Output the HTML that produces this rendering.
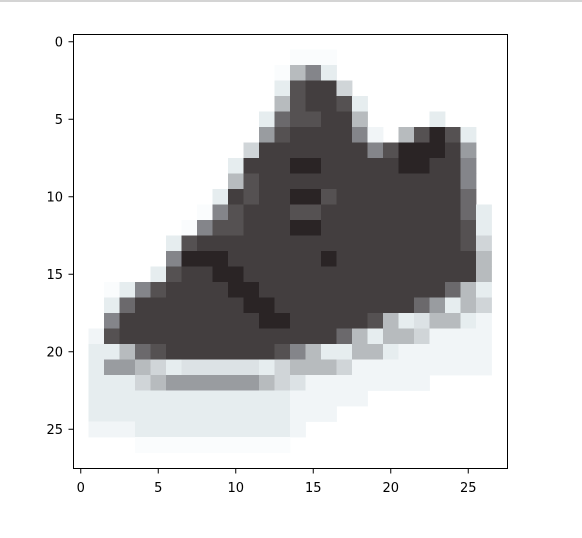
<!DOCTYPE html>
<html><head><meta charset="utf-8">
<style>
html,body{margin:0;padding:0;background:#fff;}
svg{display:block;font-family:"DejaVu Sans","Liberation Sans",sans-serif;}
</style></head>
<body>
<svg id="chart" width="582" height="538" viewBox="0 0 582 538">
<rect x="0" y="0" width="582" height="2" fill="#d4d4d4"/>
<g id="cells"></g>
<rect x="73.5" y="34.5" width="434" height="434" fill="none" stroke="#000" stroke-width="1"/>
<g id="xaxis"></g>
<g id="yaxis"></g>
</svg>
<script>
const rows = [
"....... ....... ....... .......",
"....... ....... aaa.... .......",
"....... ......a 351.... .......",
"....... ......1 7882... .......",
"....... ......3 78871.. .......",
"....... .....16 77883.. ..1....",
"....... .....47 88885b. 37971..",
"....... ....288 8888857 99984..",
"....... ...1888 9988888 99885..",
"....... ...3788 8888888 88885..",
"....... ..18788 9978888 88886..",
"....... .a57888 7788888 888861.",
"....... a577888 9988888 888871.",
"......1 7888888 8888888 888872.",
"......5 9998888 8898888 888883.",
".....17 8899888 8888888 888883.",
"..a1578 8889988 8888888 888631.",
"..16888 8888998 8888888 864132.",
"..58888 8888899 8888873 1c331b.",
".b78888 8888888 8886313 32bbbb.",
".113678 8888887 5311331 bbbbbb.",
".144321 ccccc12 3332bbb bbbbbb.",
".111234 4444432 cbbbbbb bb.....",
".111111 1111111 bbbbb.. .......",
".111111 1111111 bbb.... .......",
".bbb111 1111111 b...... .......",
"....aaa aaaaaaa ....... .......",
"....... ....... ....... ......."
];
const levelKeys = [".","a","b","1","c","2","3","4","5","6","7","8","9"];
const levelColors = ["#ffffff","#fafcfd","#f1f5f7","#e6edef","#dce2e5","#d0d5d8","#b7bbbe","#999ca0","#84858a","#6b696c","#555152","#433e3f","#2a2425"];
const xTicks = [0,5,10,15,20,25];
const yTicks = [0,5,10,15,20,25];

const NS="http://www.w3.org/2000/svg";
const X0=73, Y0=34, SZ=434, N=28, CELL=SZ/N;
function sx(v){return X0+(v+0.5)*CELL;}
function sy(v){return Y0+(v+0.5)*CELL;}
const cells=document.getElementById('cells');
rows.forEach((row,r)=>{
  const clean=row.replace(/ /g,'').padEnd(N,'.').slice(0,N);
  for(let c=0;c<N;c++){
    const k=levelKeys.indexOf(clean[c]);
    if(k<=0) continue;
    const rect=document.createElementNS(NS,'rect');
    rect.setAttribute('x',(sx(c)-CELL/2).toFixed(2));
    rect.setAttribute('y',(sy(r)-CELL/2).toFixed(2));
    rect.setAttribute('width',(CELL+0.4).toFixed(2));
    rect.setAttribute('height',(CELL+0.4).toFixed(2));
    rect.setAttribute('fill',levelColors[k]);
    
    
    cells.appendChild(rect);
  }
});
const xa=document.getElementById('xaxis');
xTicks.forEach(v=>{
  const x=sx(v);
  const l=document.createElementNS(NS,'line');
  l.setAttribute('x1',x);l.setAttribute('x2',x);l.setAttribute('y1',469);l.setAttribute('y2',473.5);
  l.setAttribute('stroke','#000');
  
  
  xa.appendChild(l);
  const t=document.createElementNS(NS,'text');
  t.setAttribute('x',x);t.setAttribute('y',492);t.setAttribute('text-anchor','middle');t.setAttribute('font-size','13');
  t.textContent=v;
  
  
  xa.appendChild(t);
});
const ya=document.getElementById('yaxis');
yTicks.forEach(v=>{
  const y=sy(v);
  const l=document.createElementNS(NS,'line');
  l.setAttribute('x1',68.5);l.setAttribute('x2',73);l.setAttribute('y1',y);l.setAttribute('y2',y);
  l.setAttribute('stroke','#000');
  
  
  ya.appendChild(l);
  const t=document.createElementNS(NS,'text');
  t.setAttribute('x',63);t.setAttribute('y',y+4.5);t.setAttribute('text-anchor','end');t.setAttribute('font-size','13');
  t.textContent=v;
  
  
  ya.appendChild(t);
});
</script>
</body></html>
